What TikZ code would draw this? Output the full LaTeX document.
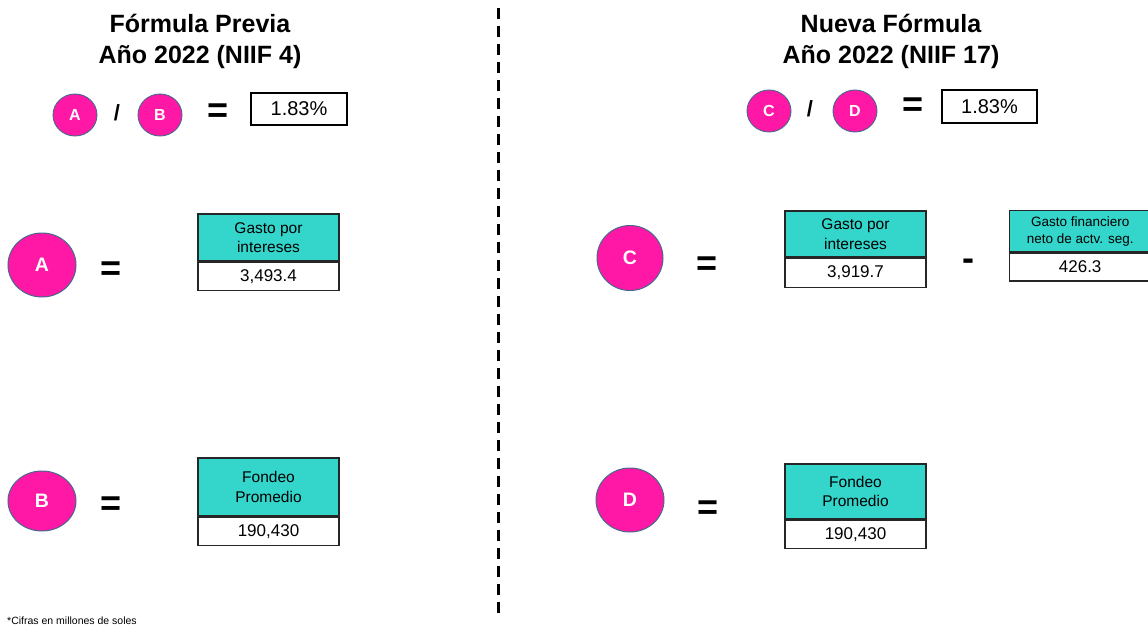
\documentclass[tikz,border=0pt]{standalone}
\usepackage{fontspec}
\setmainfont{Liberation Sans}
\usetikzlibrary{shapes.geometric}
\definecolor{pinkc}{RGB}{255,24,166}
\definecolor{rimc}{RGB}{70,105,140}
\definecolor{tealc}{RGB}{52,214,204}
\tikzset{
  circS/.style={ellipse, draw=rimc, line width=0.9pt, fill=pinkc, text=white, inner sep=0pt,
    minimum width=44pt, minimum height=42pt, font=\fontsize{16}{18}\selectfont\bfseries},
  circL/.style={ellipse, draw=rimc, line width=1pt, fill=pinkc, text=white, inner sep=0pt,
    minimum width=68pt, minimum height=64pt, font=\fontsize{19.5}{22}\selectfont\bfseries},
  hdr/.style={rectangle, draw=black!85, line width=1.3pt, fill=tealc, inner sep=0pt, align=center,
    minimum width=141pt, font=\fontsize{15.5}{19.5}\selectfont},
  val/.style={rectangle, draw=black!85, line width=1.3pt, fill=white, inner sep=0pt,
    minimum width=141pt, minimum height=28pt, font=\fontsize{17}{20}\selectfont},
  resbox/.style={rectangle, draw=black, line width=1.3pt, inner sep=0pt,
    minimum width=96pt, minimum height=32pt, font=\fontsize{20}{24}\selectfont},
  ttl/.style={font=\fontsize{25}{31}\selectfont\bfseries, align=center, inner sep=0pt},
  opr/.style={font=\fontsize{36}{40}\selectfont\bfseries, inner sep=0pt},
  slash/.style={font=\fontsize{22}{26}\selectfont\bfseries, inner sep=0pt},
  divline/.style={line width=3pt, dash pattern=on 11pt off 7pt}
}
\begin{document}
\begin{tikzpicture}[x=1pt,y=-1pt]
\useasboundingbox (0,0) rectangle (1148,626);
\clip (0,0) rectangle (1148,626);
% divider
\coordinate (dtop) at (498,8);
\coordinate (dbot) at (498,616);
\draw[divline] (dtop) -- (dbot);

% left title
\node[ttl] (t1) at (200,41) {Fórmula Previa\\Año 2022 (NIIF 4)};
% left formula
\node[circS] (sa) at (75,115) {A};
\node[slash] (sl1) at (117,113) {/};
\node[circS] (sb) at (160,115) {B};
\node[opr] (eq1) at (218,113) {=};
\node[resbox] (r1) at (299,109) {1.83\%};

% right title
\node[ttl] (t2) at (891,41) {Nueva Fórmula\\Año 2022 (NIIF 17)};
\node[circS] (sc) at (769,111) {C};
\node[slash] (sl2) at (810,109) {/};
\node[circS] (sd) at (855,111) {D};
\node[opr] (eq2) at (913,107) {=};
\node[resbox, minimum width=95pt, minimum height=33pt] (r2) at (989.5,106.5) {1.83\%};

% A row
\node[circL] (la) at (42,265) {A};
\node[opr] (eqa) at (111,271.5) {=};
\node[hdr, minimum height=47pt] (ha) at (268.5,237.5) {Gasto por\\intereses};
\node[val, anchor=north] (va) at (ha.south) {3,493.4};

% B row
\node[circL, minimum height=60pt] (lb) at (42,501) {B};
\node[opr] (eqb) at (111,506.5) {=};
\node[hdr, minimum height=58pt] (hb) at (268.5,487) {Fondeo\\Promedio};
\node[val, anchor=north] (vb) at (hb.south) {190,430};

% C row
\node[circL, minimum width=66pt, minimum height=65pt] (lc) at (630,258) {C};
\node[opr] (eqc) at (707,266) {=};
\node[hdr, minimum height=46pt] (hc) at (855.5,234) {Gasto por\\intereses};
\node[val, anchor=north, minimum height=29pt] (vc) at (hc.south) {3,919.7};
\node[opr] (mn) at (968,265) {-};
\node[hdr, minimum height=41pt, font=\fontsize{13.5}{17}\selectfont, anchor=north west] (hf) at (1009,210) {Gasto financiero\\neto de actv. seg.};
\node[val, anchor=north west] (vf) at (hf.south west) {426.3};

% D row
\node[circL] (ld) at (630,500) {D};
\node[opr] (eqd) at (708,510) {=};
\node[hdr, minimum height=55pt] (hd) at (855.5,491.5) {Fondeo\\Promedio};
\node[val, anchor=north] (vd) at (hd.south) {190,430};

% footnote
\node[anchor=west, inner sep=0pt, font=\fontsize{10.5}{12}\selectfont] (fn) at (7,621) {*Cifras en millones de soles};
\end{tikzpicture}
\end{document}
